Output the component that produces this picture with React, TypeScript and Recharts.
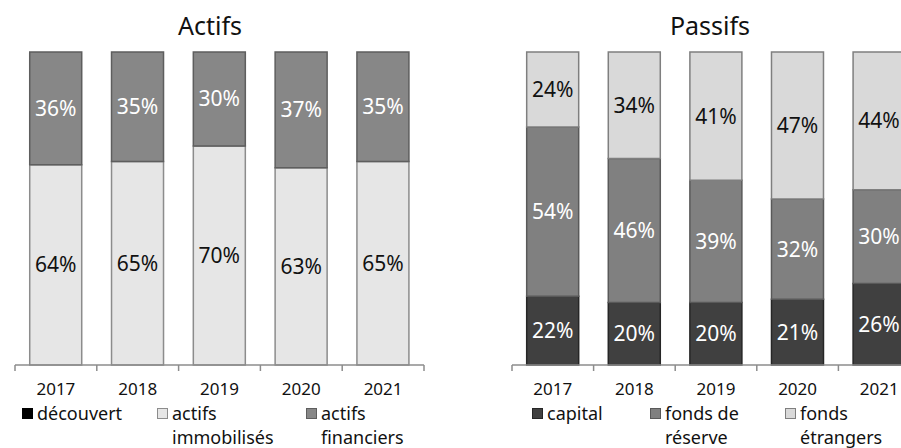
import React from 'react';
import { BarChart, Bar, XAxis, YAxis, LabelList } from 'recharts';

// Years and shares (percent)
const years = ['2017', '2018', '2019', '2020', '2021'];

const decouvert = [0, 0, 0, 0, 0];
const actifsImmobilises = [64, 65, 70, 63, 65];
const actifsFinanciers = [36, 35, 30, 37, 35];

const capital = [22, 20, 20, 21, 26];
const fondsReserve = [54, 46, 39, 32, 30];
const fondsEtrangers = [24, 34, 41, 47, 44];

const actifsData = years.map((year, i) => ({
  year,
  decouvert: decouvert[i],
  immobilises: actifsImmobilises[i],
  financiers: actifsFinanciers[i],
}));

const passifsData = years.map((year, i) => ({
  year,
  capital: capital[i],
  reserve: fondsReserve[i],
  etrangers: fondsEtrangers[i],
}));

type Series = { key: string; name: string; fill: string; stroke: string; text?: string; legend?: string };

const actifsSeries: Series[] = [
  { key: 'decouvert', name: 'découvert', fill: '#000000', stroke: '#000000', legend: '#000000' },
  { key: 'immobilises', name: 'actifs immobilisés', fill: '#e6e6e6', stroke: '#8c8c8c', text: '#111111' },
  { key: 'financiers', name: 'actifs financiers', fill: '#878787', stroke: '#5e5e5e', text: '#ffffff' },
];

const passifsSeries: Series[] = [
  { key: 'capital', name: 'capital', fill: '#404040', stroke: '#262626', text: '#ffffff' },
  { key: 'reserve', name: 'fonds de réserve', fill: '#808080', stroke: '#595959', text: '#ffffff' },
  { key: 'etrangers', name: 'fonds étrangers', fill: '#d9d9d9', stroke: '#7f7f7f', text: '#111111' },
];

const FONT = '"Noto Sans", sans-serif';

const pct = (v: any) => (v ? `${v}%` : '');

// Excel-like x axis: label at band centre, tick marks at band boundaries
const makeTick = (band: number, count: number) => (props: any) => {
  const { x, y, payload, index } = props;
  const top = y - 8;
  return (
    <g>
      <line x1={x - band / 2} y1={top} x2={x - band / 2} y2={top + 6} stroke="#8c8c8c" strokeWidth={1.5} />
      {index === count - 1 && (
        <line x1={x + band / 2} y1={top} x2={x + band / 2} y2={top + 6} stroke="#8c8c8c" strokeWidth={1.5} />
      )}
      <text x={x} y={y + 22} textAnchor="middle" fill="#111" fontSize={17} fontFamily={FONT}>
        {payload.value}
      </text>
    </g>
  );
};

const LegendBlock = ({ series, xs, top }: { series: Series[]; xs: number[]; top: number }) => (
  <>
    {series.map((s, i) => (
      <div
        key={s.key}
        style={{
          position: 'absolute',
          left: xs[i],
          top,
          display: 'flex',
          alignItems: 'flex-start',
          fontFamily: FONT,
          fontSize: 18,
          lineHeight: '24px',
          color: '#111',
        }}
      >
        <span
          style={{
            width: 11,
            height: 11,
            marginTop: 7,
            marginRight: 4,
            background: s.legend || s.fill,
            border: `1px solid ${s.stroke}`,
            boxSizing: 'border-box',
            flexShrink: 0,
          }}
        />
        <span style={{ width: 110 }}>{s.name}</span>
      </div>
    ))}
  </>
);

const StackChart = ({
  data,
  series,
  width,
  left,
  right,
}: {
  data: any[];
  series: Series[];
  width: number;
  left: number;
  right: number;
}) => {
  const band = (width - left - right) / years.length;
  return (
    <BarChart
      width={width}
      height={448}
      data={data}
      margin={{ top: 52, right, bottom: 53, left }}
      barCategoryGap="18%"
    >
      <XAxis
        dataKey="year"
        height={30}
        axisLine={{ stroke: '#8c8c8c', strokeWidth: 1.5 }}
        tickLine={false}
        interval={0}
        tick={makeTick(band, years.length)}
      />
      <YAxis hide domain={[0, 100]} />
      {series.map((s) => (
        <Bar
          key={s.key}
          dataKey={s.key}
          name={s.name}
          stackId="a"
          fill={s.fill}
          stroke={s.stroke}
          strokeWidth={1.5}
          isAnimationActive={false}
        >
          {s.text && (
            <LabelList
              dataKey={s.key}
              position="center"
              formatter={pct}
              fill={s.text}
              fontSize={21}
              fontFamily={FONT}
            />
          )}
        </Bar>
      ))}
    </BarChart>
  );
};

export default function App() {
  return (
    <div
      style={{
        position: 'absolute',
        left: 0,
        top: 0,
        width: 901,
        height: 448,
        overflow: 'hidden',
        background: '#ffffff',
      }}
    >
      <div style={{ position: 'absolute', left: 0, top: 0 }}>
        <StackChart data={actifsData} series={actifsSeries} width={450} left={15} right={26} />
      </div>
      <div style={{ position: 'absolute', left: 450, top: 0 }}>
        <StackChart data={passifsData} series={passifsSeries} width={480} left={62} right={10} />
      </div>

      <div style={{ position: 'absolute', left: 0, top: 8, width: 420, textAlign: 'center', fontFamily: FONT, fontSize: 25, color: '#111' }}>
        Actifs
      </div>
      <div style={{ position: 'absolute', left: 500, top: 8, width: 420, textAlign: 'center', fontFamily: FONT, fontSize: 25, color: '#111' }}>
        Passifs
      </div>

      <LegendBlock series={actifsSeries} xs={[22, 157, 306]} top={401} />
      <LegendBlock series={passifsSeries} xs={[532, 650, 785]} top={401} />
    </div>
  );
}
